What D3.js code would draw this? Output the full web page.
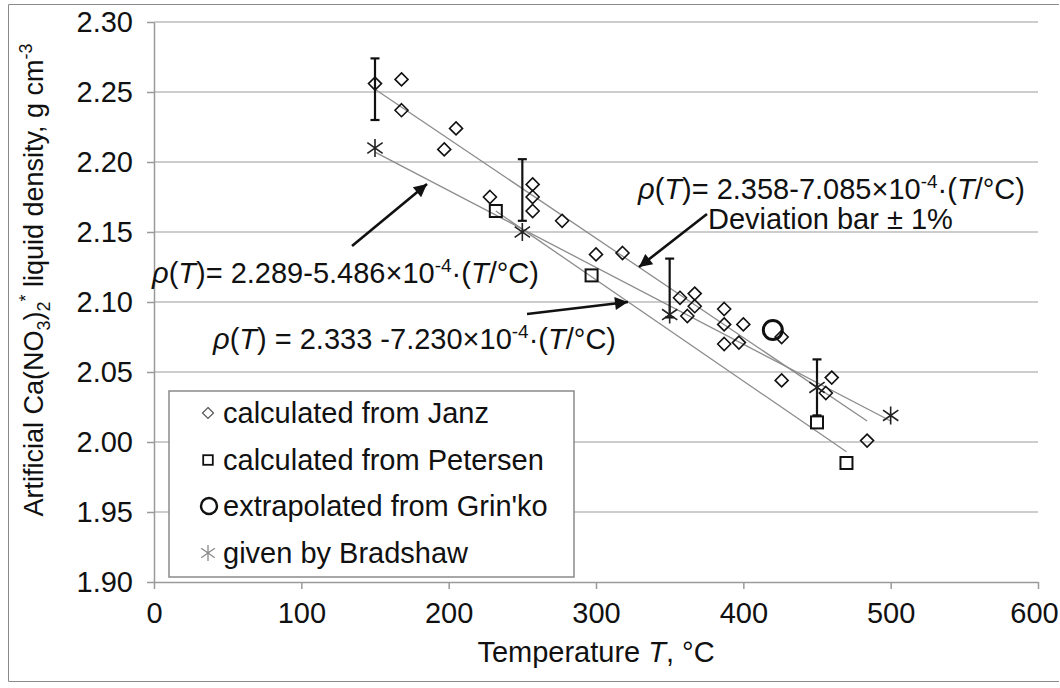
<!DOCTYPE html>
<html><head><meta charset="utf-8">
<script src="https://cdn.jsdelivr.net/npm/d3@7"></script>
<style>body{margin:0;background:#fff}svg{display:block}text{font-family:"Liberation Sans",Arial,sans-serif;fill:#111}</style>
</head><body><div id="chart"></div>
<script>
// ---- data ----
const janzT   = [150,168,168,205,197,228,257,257,257,277,300,318,357,367,367,362,387,387,400,387,397,426,426,460,456,484];
const janzRho = [2.256,2.259,2.237,2.224,2.209,2.175,2.184,2.175,2.165,2.158,2.134,2.135,2.103,2.106,2.097,2.090,2.095,2.084,2.084,2.070,2.071,2.075,2.044,2.046,2.035,2.001];
const petT    = [232,297,450,470];
const petRho  = [2.165,2.119,2.014,1.985];
const grinT   = [420];
const grinRho = [2.080];
const bradT   = [150,250,350,450,500];
const bradRho = [2.210,2.150,2.091,2.039,2.019];
const errT    = [150,250,350,450];
const errHigh = [2.274,2.202,2.131,2.059];
const errLow  = [2.230,2.158,2.089,2.019];
const fitJanzT = [150,484], fitJanzRho = [2.252,2.015];
const fitPetT  = [232,470], fitPetRho  = [2.165,1.993];
const fitBradT = [150,500], fitBradRho = [2.207,2.015];
const xTicks = [0,100,200,300,400,500,600];
const yTicks = [1.90,1.95,2.00,2.05,2.10,2.15,2.20,2.25,2.30];
const legendLabels = ["calculated from Janz","calculated from Petersen","extrapolated from Grin'ko","given by Bradshaw"];

// ---- chart ----
const W=1060,H=688;
const svg=d3.select("#chart").append("svg").attr("width",W).attr("height",H);
const x=d3.scaleLinear().domain([0,600]).range([154,1038]);
const y=d3.scaleLinear().domain([1.90,2.30]).range([582,22]);
const FS=29;

svg.append("path").attr("d","M1059,4.5H8.5V681.5H1059")
  .attr("fill","none").attr("stroke","#8a8a8a").attr("stroke-width",1);

// gridlines
svg.append("g").selectAll("line").data(yTicks.slice(1)).join("line")
  .attr("x1",x(0)).attr("x2",x(600)).attr("y1",d=>y(d)).attr("y2",d=>y(d))
  .attr("stroke","#bdbdbd").attr("stroke-width",1.5);

// axes
const ax=svg.append("g").attr("transform",`translate(${x(0)},0)`)
  .call(d3.axisLeft(y).tickValues(yTicks).tickSize(7).tickSizeOuter(0).tickPadding(14).tickFormat(d3.format(".2f")));
const bx=svg.append("g").attr("transform",`translate(0,${y(1.90)})`)
  .call(d3.axisBottom(x).tickValues(xTicks).tickSize(7).tickSizeOuter(0).tickPadding(13).tickFormat(d3.format("d")));
[ax,bx].forEach(g=>{
  g.selectAll(".domain").attr("stroke","#9a9a9a").attr("stroke-width",1.5);
  g.selectAll(".tick line").attr("stroke","#9a9a9a").attr("stroke-width",1.5);
  g.selectAll("text").attr("font-size",FS).attr("font-family",'"Liberation Sans",Arial,sans-serif').attr("fill","#111");
});
bx.selectAll(".tick text").filter(d=>d===600).attr("dx",-4);

// axis titles
const xt=svg.append("text").attr("x",(x(0)+x(600))/2).attr("y",662).attr("text-anchor","middle").attr("font-size",FS);
xt.append("tspan").text("Temperature ");
xt.append("tspan").attr("font-style","italic").text("T");
xt.append("tspan").text(", °C");

const yt=svg.append("text").attr("transform","translate(43,280) rotate(-90)").attr("text-anchor","middle").attr("font-size",27);
yt.append("tspan").text("Artificial Ca(NO");
yt.append("tspan").attr("font-size",18).attr("dy",7).text("3");
yt.append("tspan").attr("dy",-7).text(")");
yt.append("tspan").attr("font-size",18).attr("dy",7).text("2");
yt.append("tspan").attr("font-size",18).attr("dy",-18).text("*");
yt.append("tspan").attr("dy",11).text(" liquid density, g cm");
yt.append("tspan").attr("font-size",18).attr("dy",-11).text("-3");

// fit lines
function fit(T,R){svg.append("line").attr("x1",x(T[0])).attr("y1",y(R[0])).attr("x2",x(T[1])).attr("y2",y(R[1]))
  .attr("stroke","#8c8c8c").attr("stroke-width",1.3);}
fit(fitJanzT,fitJanzRho); fit(fitPetT,fitPetRho); fit(fitBradT,fitBradRho);

// error bars
const eb=svg.append("g").attr("stroke","#111").attr("stroke-width",2.2);
errT.forEach((t,i)=>{
  eb.append("line").attr("x1",x(t)).attr("x2",x(t)).attr("y1",y(errHigh[i])).attr("y2",y(errLow[i]));
  eb.append("line").attr("x1",x(t)-4.5).attr("x2",x(t)+4.5).attr("y1",y(errHigh[i])).attr("y2",y(errHigh[i]));
  eb.append("line").attr("x1",x(t)-4.5).attr("x2",x(t)+4.5).attr("y1",y(errLow[i])).attr("y2",y(errLow[i]));
});

// marker helpers
function diamond(g,cx,cy,r,col,sw){g.append("path").attr("d",`M${cx},${cy-r}L${cx+r},${cy}L${cx},${cy+r}L${cx-r},${cy}Z`).attr("fill","none").attr("stroke",col).attr("stroke-width",sw);}
function square(g,cx,cy,r,col,sw){g.append("rect").attr("x",cx-r).attr("y",cy-r).attr("width",2*r).attr("height",2*r).attr("fill","none").attr("stroke",col).attr("stroke-width",sw);}
function circ(g,cx,cy,r,col,sw){g.append("circle").attr("cx",cx).attr("cy",cy).attr("r",r).attr("fill","none").attr("stroke",col).attr("stroke-width",sw);}
function aster(g,cx,cy,r,col,sw){const d=r*0.85;g.append("path").attr("d",`M${cx},${cy-r}V${cy+r}M${cx-d},${cy-d*0.7}L${cx+d},${cy+d*0.7}M${cx-d},${cy+d*0.7}L${cx+d},${cy-d*0.7}`).attr("fill","none").attr("stroke",col).attr("stroke-width",sw);}

const mk=svg.append("g");
janzT.forEach((t,i)=>diamond(mk,x(t),y(janzRho[i]),6.5,"#111",1.6));
petT.forEach((t,i)=>square(mk,x(t),y(petRho[i]),6,"#111",2));
grinT.forEach((t,i)=>circ(mk,x(t),y(grinRho[i]),9.5,"#111",3));
bradT.forEach((t,i)=>aster(mk,x(t),y(bradRho[i]),9,"#222",1.6));

// annotations
function eq(xp,yp,pre){
  const t=svg.append("text").attr("x",xp).attr("y",yp).attr("font-size",FS);
  t.append("tspan").attr("font-style","italic").text("ρ");
  t.append("tspan").text("(");
  t.append("tspan").attr("font-style","italic").text("T");
  t.append("tspan").text(")"+pre);
  t.append("tspan").attr("font-size",19).attr("dy",-11).text("-4");
  t.append("tspan").attr("dy",11).text("·(");
  t.append("tspan").attr("font-style","italic").text("T");
  t.append("tspan").text("/°C)");
}
eq(638,199,"= 2.358-7.085×10");
eq(152,283,"= 2.289-5.486×10");
eq(213,349," = 2.333 -7.230×10");
svg.append("text").attr("x",708).attr("y",229).attr("font-size",FS).text("Deviation bar ± 1%");

svg.append("defs").append("marker").attr("id","ah").attr("viewBox","0 0 10 10").attr("refX",10).attr("refY",5)
  .attr("markerWidth",6.5).attr("markerHeight",5).attr("markerUnits","strokeWidth").attr("orient","auto")
  .append("path").attr("d","M0,0L10,5L0,10Z").attr("fill","#111");
function arrow(x1,y1,x2,y2){svg.append("line").attr("x1",x1).attr("y1",y1).attr("x2",x2).attr("y2",y2)
  .attr("stroke","#111").attr("stroke-width",2.6).attr("marker-end","url(#ah)");}
arrow(707,214,639,267);
arrow(352,246,427,184);
arrow(527,314,628,302);

// legend
const lg=svg.append("g");
lg.append("rect").attr("x",169).attr("y",391).attr("width",405).attr("height",186).attr("fill","#fff").attr("stroke","#8a8a8a").attr("stroke-width",1.5);
const rows=[423,470,516,563];
legendLabels.forEach((l,i)=>lg.append("text").attr("x",223).attr("y",rows[i]).attr("font-size",FS).text(l));
diamond(lg,208,rows[0]-10,5.5,"#555",1.2);
square(lg,208,rows[1]-10,4.8,"#111",1.8);
circ(lg,209,rows[2]-10,8,"#111",2.4);
aster(lg,208,rows[3]-10,8,"#8a8a8a",1.3);
</script></body></html>
